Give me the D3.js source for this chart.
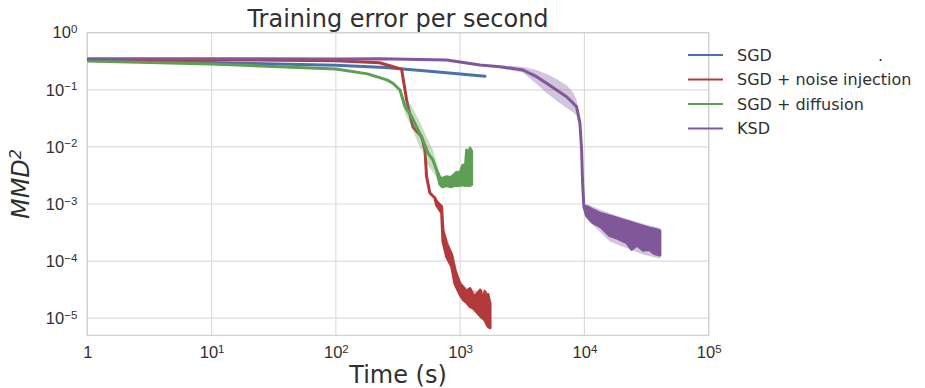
<!DOCTYPE html>
<html>
<head>
<meta charset="utf-8">
<script src="https://cdn.jsdelivr.net/npm/d3@7"></script>
<style>
  body { margin: 0; background: #fff; }
  svg { font-family: "DejaVu Sans", sans-serif; }
</style>
</head>
<body>
<svg id="chart"></svg>
<script>
// ticks
const xTicks = [1, 10, 100, 1000, 10000, 100000];
const yTicks = [1, 1e-1, 1e-2, 1e-3, 1e-4, 1e-5];

const seriesNames = ["SGD", "SGD + noise injection", "SGD + diffusion", "KSD"];
const seriesColors = ["#4a71ad", "#b23a3c", "#5e9e55", "#80589a"];

// SGD (no visible noise)
const sgdTime = [1, 10, 100, 250, 600, 1585];
const sgdValue = [0.34, 0.30, 0.27, 0.245, 0.21, 0.172];

// SGD + noise injection : low / high edge of the trace
const noiseTime = [1, 10, 100, 225, 338, 371, 417, 490, 521, 537, 571, 627, 647, 710, 727, 778, 855, 908, 996, 1060, 1128, 1200, 1280, 1357, 1450, 1520, 1585, 1640, 1675, 1740];
const noiseHigh = [0.34, 0.34, 0.323, 0.298, 0.23, 0.0663, 0.0223, 0.0151, 0.00883, 0.00301, 0.00156, 0.00127, 0.0011, 0.0009, 0.00035, 0.0002, 0.00013, 0.00007, 0.00004, 0.000034, 0.000029, 0.000033, 0.000024, 0.000026, 0.000031, 0.000021, 0.000029, 0.000019, 0.000026, 0.000018];
const noiseLow = [0.34, 0.34, 0.323, 0.298, 0.23, 0.0663, 0.0223, 0.0151, 0.00883, 0.00301, 0.00156, 0.00127, 0.00095, 0.0007, 0.00022, 0.00012, 0.00008, 0.00004, 0.000026, 0.000021, 0.000019, 0.000016, 0.000015, 0.000013, 0.000011, 0.00001, 0.0000092, 0.0000078, 0.0000072, 0.0000068];
const noiseBandTime = [727, 855, 996, 1128, 1357, 1585, 1740];
const noiseBandHigh = [0.0004, 0.00015, 0.000045, 0.000034, 0.00003, 0.000032, 0.000024];
const noiseBandLow = [0.0002, 0.00007, 0.000023, 0.000017, 0.000012, 0.0000085, 0.0000062];

// SGD + diffusion
const diffusionTime = [1, 10, 100, 180, 257, 288, 328, 360, 407, 458, 501, 551, 604, 647, 688, 720, 780, 840, 900, 937, 990, 1054, 1100, 1128, 1150, 1180, 1200, 1237];
const diffusionHigh = [0.319, 0.283, 0.231, 0.19, 0.149, 0.13, 0.099, 0.0506, 0.0338, 0.0198, 0.0132, 0.0078, 0.0059, 0.0039, 0.0029, 0.0028, 0.003, 0.0029, 0.0033, 0.0036, 0.0034, 0.0048, 0.0042, 0.0088, 0.0055, 0.0075, 0.0095, 0.0085];
const diffusionLow = [0.319, 0.283, 0.231, 0.19, 0.149, 0.13, 0.099, 0.0506, 0.0338, 0.0198, 0.0132, 0.0078, 0.0059, 0.0039, 0.0022, 0.002, 0.0021, 0.002, 0.0021, 0.0021, 0.0021, 0.0022, 0.0021, 0.0022, 0.0021, 0.0022, 0.0021, 0.0022];
const diffusionBandTime = [328, 360, 407, 458, 501, 551, 604, 647, 688];
const diffusionBandHigh = [0.11, 0.066, 0.052, 0.032, 0.0213, 0.0132, 0.0088, 0.0052, 0.0032];
const diffusionBandLow = [0.088, 0.039, 0.022, 0.0117, 0.0081, 0.0048, 0.0036, 0.0029, 0.0021];

// KSD
const ksdTime = [1, 10, 100, 225, 778, 1443, 2090, 3200, 4125, 4963, 5970, 7190, 8090, 8650, 9200, 9490, 9670, 9900, 10400, 11700, 13500, 16000, 18500, 21900, 24000, 26500, 29600, 33000, 36500, 40500];
const ksdHigh = [0.35, 0.35, 0.346, 0.35, 0.333, 0.272, 0.254, 0.222, 0.17, 0.13, 0.099, 0.0757, 0.0587, 0.0506, 0.0262, 0.00883, 0.00233, 0.0009, 0.0009, 0.00079, 0.00068, 0.00062, 0.00056, 0.0005, 0.00047, 0.00044, 0.00041, 0.00038, 0.00036, 0.00034];
const ksdLow = [0.35, 0.35, 0.346, 0.35, 0.333, 0.272, 0.254, 0.222, 0.17, 0.13, 0.099, 0.0757, 0.0587, 0.0506, 0.0262, 0.00883, 0.00233, 0.0009, 0.00062, 0.00047, 0.0004, 0.00028, 0.00025, 0.00021, 0.00016, 0.00019, 0.000155, 0.00016, 0.000135, 0.000127];
const ksdBandTime = [2090, 3200, 4125, 4963, 5970, 7190, 8090, 8650, 9200, 9490];
const ksdBandHigh = [0.27, 0.25, 0.222, 0.19, 0.154, 0.12, 0.091, 0.066, 0.032, 0.01];
const ksdBandLow = [0.24, 0.2, 0.126, 0.088, 0.064, 0.048, 0.041, 0.035, 0.02, 0.008];
const ksdTailBandTime = [10400, 16000, 29600, 40500];
const ksdTailBandHigh = [0.001, 0.00068, 0.00045, 0.00038];
const ksdTailBandLow = [0.00055, 0.00022, 0.00013, 0.00011];

function zipRows(t, lo, hi) {
  return t.map((d, i) => ({ t: d, lo: lo[i], hi: hi[i] }));
}

const series = [
  { rows: zipRows(sgdTime, sgdValue, sgdValue), bands: [] },
  { rows: zipRows(noiseTime, noiseLow, noiseHigh), bands: [zipRows(noiseBandTime, noiseBandLow, noiseBandHigh)] },
  { rows: zipRows(diffusionTime, diffusionLow, diffusionHigh), bands: [zipRows(diffusionBandTime, diffusionBandLow, diffusionBandHigh)] },
  { rows: zipRows(ksdTime, ksdLow, ksdHigh), bands: [zipRows(ksdBandTime, ksdBandLow, ksdBandHigh), zipRows(ksdTailBandTime, ksdTailBandLow, ksdTailBandHigh)] },
];

function createChart() {
  const width = 925;
  const height = 388;
  const marginTop = 32.7;
  const marginRight = 216.3;
  const marginBottom = 52.7;
  const marginLeft = 87.3;
  const textColor = "#303030";

  const x = d3.scaleLog([1, 1e5], [marginLeft, width - marginRight]);
  const y = d3.scaleLog([Math.pow(10, -5.3), 1], [height - marginBottom, marginTop]);

  const svg = d3.select("svg#chart")
    .attr("width", width)
    .attr("height", height)
    .attr("viewBox", [0, 0, width, height]);

  svg.append("defs").append("clipPath")
    .attr("id", "plot-clip")
    .append("rect")
    .attr("x", marginLeft)
    .attr("y", marginTop)
    .attr("width", width - marginLeft - marginRight)
    .attr("height", height - marginTop - marginBottom);

  // grid
  svg.append("g")
    .selectAll("line")
    .data(xTicks)
    .join("line")
    .attr("x1", d => x(d)).attr("x2", d => x(d))
    .attr("y1", marginTop).attr("y2", height - marginBottom)
    .attr("stroke", "#dcdcdc")
    .attr("stroke-width", 1.2);
  svg.append("g")
    .selectAll("line")
    .data(yTicks)
    .join("line")
    .attr("x1", marginLeft).attr("x2", width - marginRight)
    .attr("y1", d => y(d)).attr("y2", d => y(d))
    .attr("stroke", "#dcdcdc")
    .attr("stroke-width", 1.2);

  svg.append("rect")
    .attr("x", marginLeft)
    .attr("y", marginTop)
    .attr("width", width - marginLeft - marginRight)
    .attr("height", height - marginTop - marginBottom)
    .attr("fill", "none")
    .attr("stroke", "#cfcfcf")
    .attr("stroke-width", 1.2);

  // tick labels as 10 with superscript exponent
  function powerLabel(text, d, plainOne) {
    const e = Math.round(Math.log10(d));
    text.text(null);
    if (plainOne && e === 0) {
      text.text("1");
      return;
    }
    text.append("tspan").text("10");
    text.append("tspan")
      .attr("dy", "-0.45em")
      .attr("font-size", "11.5px")
      .text(String(e).replace("-", "\u2212"));
  }

  svg.append("g")
    .attr("transform", `translate(0,${height - marginBottom})`)
    .call(d3.axisBottom(x).tickValues(xTicks).tickSize(0).tickPadding(11).tickFormat(""))
    .call(g => g.select(".domain").remove())
    .call(g => g.selectAll(".tick text")
      .attr("font-size", "16.5px")
      .attr("fill", textColor)
      .each(function (d) { powerLabel(d3.select(this), d, true); }));

  svg.append("g")
    .attr("transform", `translate(${marginLeft},0)`)
    .call(d3.axisLeft(y).tickValues(yTicks).tickSize(0).tickPadding(10).tickFormat(""))
    .call(g => g.select(".domain").remove())
    .call(g => g.selectAll(".tick text")
      .attr("font-size", "16.5px")
      .attr("fill", textColor)
      .each(function (d) { powerLabel(d3.select(this), d, false); }));

  // series
  const area = d3.area()
    .x(d => x(d.t))
    .y0(d => y(d.lo))
    .y1(d => y(d.hi));

  const plot = svg.append("g").attr("clip-path", "url(#plot-clip)");

  series.forEach((s, i) => {
    for (const band of s.bands) {
      plot.append("path")
        .attr("fill", seriesColors[i])
        .attr("fill-opacity", 0.35)
        .attr("d", area(band));
    }
    plot.append("path")
      .attr("fill", seriesColors[i])
      .attr("stroke", seriesColors[i])
      .attr("stroke-width", 3)
      .attr("stroke-linejoin", "round")
      .attr("stroke-linecap", "round")
      .attr("d", area(s.rows));
  });

  // titles
  svg.append("text")
    .attr("x", (marginLeft + width - marginRight) / 2)
    .attr("y", 27)
    .attr("text-anchor", "middle")
    .attr("font-size", "24px")
    .attr("fill", textColor)
    .text("Training error per second");

  svg.append("text")
    .attr("x", (marginLeft + width - marginRight) / 2)
    .attr("y", 383)
    .attr("text-anchor", "middle")
    .attr("font-size", "24px")
    .attr("fill", textColor)
    .text("Time (s)");

  const yLabel = svg.append("text")
    .attr("transform", "translate(29,184) rotate(-90)")
    .attr("text-anchor", "middle")
    .attr("font-size", "24px")
    .attr("font-style", "italic")
    .attr("fill", textColor);
  yLabel.append("tspan").text("MMD");
  yLabel.append("tspan").attr("dy", "-0.5em").attr("font-size", "16px").text("2");

  // legend
  const legend = svg.append("g");
  seriesNames.forEach((name, i) => {
    const ly = 55 + i * 24.5;
    legend.append("line")
      .attr("x1", 688).attr("x2", 723)
      .attr("y1", ly).attr("y2", ly)
      .attr("stroke", seriesColors[i])
      .attr("stroke-width", 2.2);
    legend.append("text")
      .attr("x", 737)
      .attr("y", ly + 5.5)
      .attr("font-size", "16px")
      .attr("fill", textColor)
      .text(name);
  });
  legend.append("text")
    .attr("x", 878)
    .attr("y", 60.5)
    .attr("font-size", "16px")
    .attr("fill", textColor)
    .text(".");
}

createChart();
</script>
</body>
</html>
